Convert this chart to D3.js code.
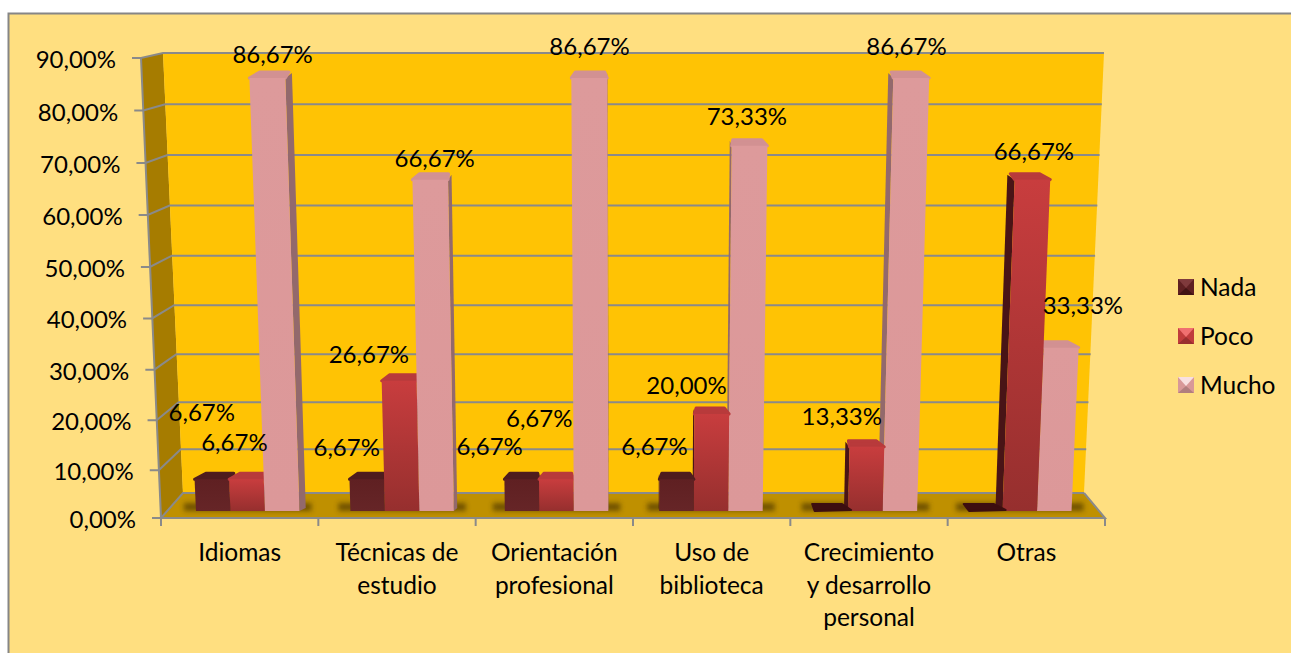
<!DOCTYPE html>
<html><head><meta charset="utf-8"><script src="https://cdn.jsdelivr.net/npm/d3@7/dist/d3.min.js"></script>
<style>html,body{margin:0;background:#fff;overflow:hidden}svg{display:block}text{font-family:Lato,"Open Sans",sans-serif;fill:#000}</style>
</head><body><svg id="c" width="1291" height="653"></svg>
<script>
const categories=[["Idiomas"],["Técnicas de","estudio"],["Orientación","profesional"],["Uso de","biblioteca"],["Crecimiento","y desarrollo","personal"],["Otras"]];
const seriesNames=["Nada","Poco","Mucho"];
const nada=[6.67,6.67,6.67,6.67,0,0];
const poco=[6.67,26.67,6.67,20,13.33,66.67];
const mucho=[86.67,66.67,86.67,73.33,86.67,33.33];
const yTicks=[0,10,20,30,40,50,60,70,80,90];
// hand nudges of data labels from their bar top (dx,dy), per series, null = no label
const nudgeNada=[[-10,-58],[-20,-23],[-32,-24],[-22,-24],null,null];
const nudgePoco=[[-12,-28],[-30,-18],[-17,-52],[-25,-20],[-25,-22],[2,-20]];
const nudgeMucho=[[6,-15],[5,-13],[1,-23],[-2,-21],[-4,-23],[22,-34]];

const svg=d3.select("#c");
const fmt=v=>v.toFixed(2).replace(".",",")+"%";
const FS=24, FST=24.5, cx=632;
const yFront=d3.scalePow().exponent(1.03).domain([0,90]).range([518,58]);
const yBack=d3.scalePow().exponent(1.05).domain([0,90]).range([493,53]);
const yBar=d3.scalePow().exponent(1.02).domain([0,90]).range([511,61]);
const persp=d3.scaleLinear([0,90],[1,1.044]);
const xAxis=d3.scaleBand().domain(d3.range(6)).range([161,1105]);
const xGroup=d3.scaleBand().domain(d3.range(6)).range([170.5,1097]).paddingInner(0.33).paddingOuter(0.165);
const xSeries=d3.scaleBand().domain(d3.range(3)).range([0,xGroup.bandwidth()]);
const px=(x,v)=>cx+(x-cx)*persp(v);

const defs=svg.append("defs");
function grad(id,c){const g=defs.append("linearGradient").attr("id",id).attr("x1",0).attr("y1",0).attr("x2",0).attr("y2",1);
 c.forEach((k,i)=>g.append("stop").attr("offset",i/(c.length-1)).attr("stop-color",k));}
const frontCols=[["#5f2022","#662527"],["#c83d3e","#962f2e"],["#dd9a9b","#dc9899"]];
const capCols=["#4f1c1e","#b83a3b","#d29192"];
const sideCols=["#451315","#491416","#93696c"];
frontCols.forEach((c,i)=>grad("f"+i,c));
defs.append("filter").attr("id","blur").attr("x","-30%").attr("y","-80%").attr("width","160%").attr("height","260%").append("feGaussianBlur").attr("stdDeviation",2.6);

// background
svg.append("rect").attr("x",8.5).attr("y",13.5).attr("width",1300).attr("height",660).attr("fill","#FFDF80").attr("stroke","#868686").attr("stroke-width",2);

const line=d3.line();
const poly=(pts,fill,stroke)=>svg.append("path").attr("d",line(pts)+"Z").attr("fill",fill).attr("stroke",stroke||"none");
const frontLeft=v=>141+(161-141)*(1-v/90);
const backLeft=v=>163+(183-163)*(1-v/90);
const backRight=v=>1084+(1104-1084)*(v/90);
// walls and floor
poly([[frontLeft(0),yFront(0)],[backLeft(0),yBack(0)],[backLeft(90),yBack(90)],[frontLeft(90),yFront(90)]],"#A67C00");
poly([[backLeft(0),yBack(0)],[backRight(0),yBack(0)],[backRight(90),yBack(90)],[backLeft(90),yBack(90)]],"#FFC304");
poly([[frontLeft(0),yFront(0)],[backLeft(0),yBack(0)],[backRight(0),yBack(0)],[1105,yFront(0)]],"#BF9000");
// grid
const gridC="#8a8a8a";
yTicks.forEach(t=>{
 svg.append("path").attr("d",line([[frontLeft(t)-9,yFront(t)],[frontLeft(t),yFront(t)],[backLeft(t),yBack(t)],[backRight(t),yBack(t)]])).attr("fill","none").attr("stroke",gridC).attr("stroke-width",2);
 svg.append("text").attr("x",frontLeft(t)-25).attr("y",yFront(t)+10).attr("text-anchor","end").attr("font-size",FS).text(fmt(t));
});
const axLine=(pts)=>svg.append("path").attr("d",line(pts)).attr("fill","none").attr("stroke",gridC).attr("stroke-width",2);
axLine([[frontLeft(90),yFront(90)],[frontLeft(0),yFront(0)],[1105,yFront(0)],[backRight(0),yBack(0)]]);
d3.range(7).forEach(i=>{const x=i<6?xAxis(i):1105;axLine([[x,518],[x,526]]);});

// floor shadows
d3.range(6).forEach(i=>{
 svg.append("rect").attr("x",xGroup(i)-12).attr("y",yBar(0)-8).attr("width",xGroup.bandwidth()+24).attr("height",8).attr("fill","#3d2a00").attr("opacity",.6).attr("filter","url(#blur)");
});

// bars
const allSeries=[nada,poco,mucho];
const nudges=[nudgeNada,nudgePoco,nudgeMucho];
const bw=xSeries.bandwidth();
const lblQueue=[];
d3.range(6).forEach(i=>{
 const order=xGroup(i)+bw*1.5<cx?[0,1,2]:[2,1,0];
 order.forEach(s=>{
  const v=allSeries[s][i], x0=xGroup(i)+xSeries(s), x1=x0+bw;
  const yt=yBar(v), yb=yBar(0);
  const bl=px(x0,0),br=px(x1,0),tl=px(x0,v),tr=px(x1,v);
  const depth=6;
  const dx=x=>(cx-x)*0.019;
  if(v>0){
   if(tr<cx) poly([[br,yb],[br+dx(br),yb-3],[tr+dx(tr),yt-depth+1],[tr,yt]],sideCols[s]);
   if(tl>cx) poly([[bl,yb],[bl+dx(bl),yb-3],[tl+dx(tl),yt-depth+1],[tl,yt]],sideCols[s]);
   svg.append("path").attr("d",line([[tl,yt],[tl+dx(tl)+3,yt-depth],[tr+dx(tr)-3,yt-depth],[tr,yt]])+"Z").attr("fill",capCols[s]).attr("stroke",capCols[s]).attr("stroke-width",3).attr("stroke-linejoin","round");
   svg.append("path").attr("d",line([[bl,yb],[tl,yt],[tr,yt],[br,yb]])+"Z").attr("fill",`url(#f${s})`);
  } else {
   svg.append("path").attr("d",line([[bl+1,yb],[bl+dx(bl)+2,yb-7],[br+dx(br)-2,yb-7],[br+3,yb-1]])+"Z").attr("fill","#3d0e10").attr("stroke","#3d0e10").attr("stroke-width",2).attr("stroke-linejoin","round");
  }
  const n=nudges[s][i];
  if(n) lblQueue.push([tl+bw/2+n[0],yt+n[1],fmt(v)]);
 });
});
lblQueue.forEach(l=>svg.append("text").attr("x",l[0]).attr("y",l[1]).attr("text-anchor","middle").attr("font-size",FS).text(l[2]));

// category labels
categories.forEach((c,i)=>{
 const m=xAxis(i)+xAxis.bandwidth()/2;
 c.forEach((t,j)=>svg.append("text").attr("x",m).attr("y",561+j*32.5).attr("text-anchor","middle").attr("font-size",FST).text(t));
});

// legend
const legendY=d3.scalePoint().domain(seriesNames).range([287,385]);
const legendCols=[["#7f3a3c","#3a1012","#5f2022"],["#f07070","#8f2c2c","#c03c3c"],["#f8e0e0","#a87878","#d89898"]];
seriesNames.forEach((n,s)=>{
 const y=legendY(n), x=1178, w=16;
 const [li,da,mi]=legendCols[s];
 svg.append("rect").attr("x",x).attr("y",y-w/2).attr("width",w).attr("height",w).attr("fill",mi);
 poly([[x,y-w/2],[x+w,y-w/2],[x+w/2,y+1]],li);
 poly([[x,y+w/2],[x+w,y+w/2],[x+w/2,y+1]],da).attr("opacity",.8);
 svg.append("text").attr("x",1200).attr("y",y+9).attr("font-size",FST).text(n);
});
</script></body></html>
